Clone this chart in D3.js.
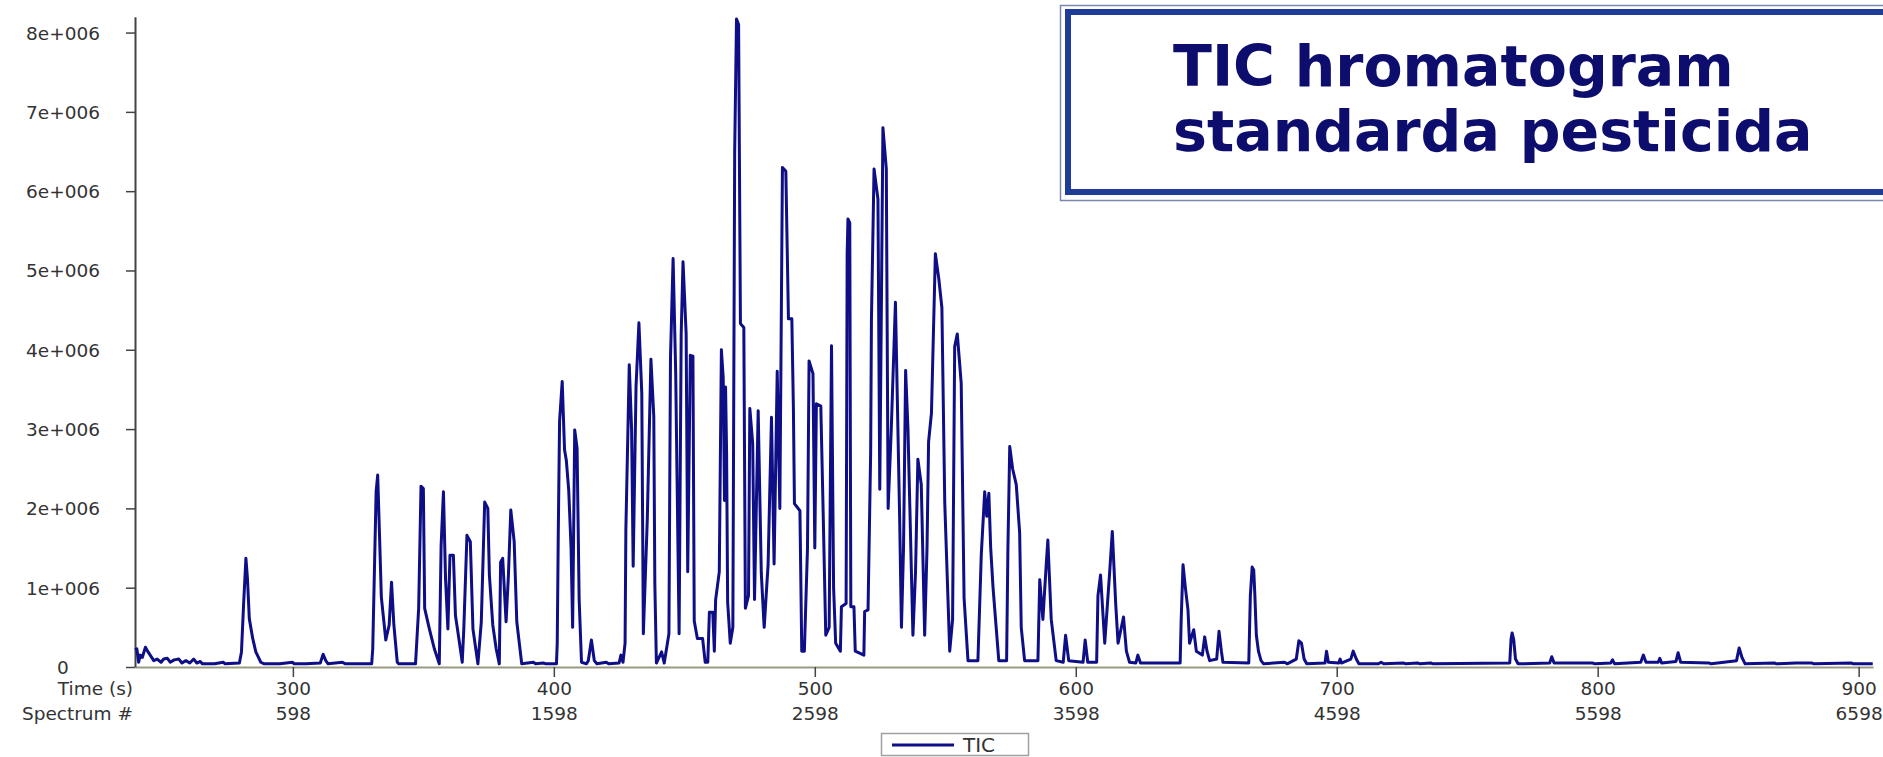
<!DOCTYPE html>
<html><head><meta charset="utf-8">
<script src="https://cdn.jsdelivr.net/npm/d3@7"></script>
<style>html,body{margin:0;padding:0;background:#fff;} svg{display:block;}</style>
</head><body><svg id="c" width="1883" height="757"></svg>
<script>
// ---- data (time in s, TIC intensity in millions) ----
const traceA = [[239.5,0.22],[240.2,0.23],[240.9,0.06],[241.5,0.15],[242.3,0.12],[243.5,0.25],[244.5,0.19],[245.5,0.14],[246.7,0.08],[248.0,0.10],[249.5,0.06],[250.5,0.10],[251.9,0.11],[253.0,0.06],[254.5,0.09],[256.3,0.10],[257.5,0.05],[259.0,0.08],[260.5,0.05],[262.0,0.10],[263.2,0.05],[264.5,0.07],[265.3,0.04],[270.0,0.04],[273.3,0.06],[274.0,0.04],[279.5,0.05],[280.3,0.19],[281.1,0.78],[282.0,1.37],[282.6,1.11],[283.3,0.61],[284.6,0.36],[285.8,0.19],[287.7,0.06],[289.0,0.04],[295.0,0.04],[299.9,0.06],[300.5,0.04],[305.0,0.04],[310.5,0.05],[311.6,0.16],[312.6,0.08],[313.5,0.04],[319.0,0.06],[320.0,0.04],[330.2,0.04],[330.6,0.23],[331.9,2.21],[332.5,2.42],[333.2,1.66],[333.9,0.88],[335.6,0.34],[336.9,0.53],[337.8,1.07],[338.7,0.53],[340.0,0.06],[340.6,0.04],[347.0,0.04],[348.2,0.74],[349.1,2.28],[350.0,2.25],[350.5,0.74],[352.3,0.48],[354.2,0.23],[356.1,0.04],[356.8,1.53],[357.7,2.21],[358.5,1.11],[359.4,0.48],[360.2,1.41],[361.5,1.41],[362.3,0.65],[363.6,0.36],[364.9,0.06],[365.5,0.48],[366.7,1.66],[368.0,1.58],[369.0,0.48],[370.9,0.04],[372.2,0.57],[373.5,2.08],[374.7,2.00],[375.3,1.16],[376.6,0.53],[377.9,0.23],[379.1,0.04],[379.6,1.32],[380.4,1.37],[381.7,0.57],[382.6,1.16],[383.5,1.98],[384.8,1.58],[385.8,0.57],[387.7,0.04],[392.2,0.06],[393.0,0.04],[396.0,0.05],[397.0,0.04],[401.0,0.04]];
const traceB = [[401.3,0.30],[401.7,1.69],[402.2,3.10],[403.2,3.60],[404.1,2.74],[404.8,2.60],[405.7,2.23],[406.6,1.50],[407.2,0.50],[408.0,2.99],[408.9,2.76],[409.7,0.85],[410.6,0.06],[412.5,0.04],[413.2,0.08],[414.4,0.34],[415.5,0.08],[416.5,0.04],[420.1,0.06],[421.0,0.04],[425.0,0.05],[425.7,0.15],[426.5,0.06],[427.3,0.30],[427.6,1.73],[428.9,3.81],[429.8,2.99],[430.4,1.27],[431.5,3.54],[432.6,4.34],[433.7,3.45],[434.3,0.42],[435.8,1.85],[437.2,3.88],[438.3,3.16],[438.7,1.05],[439.3,0.05],[441.3,0.19],[442.3,0.05],[444.1,0.42],[444.7,3.90],[445.7,5.15],[446.7,3.70],[447.2,2.42],[448.0,0.42],[448.8,4.20],[449.5,5.11],[450.7,4.20],[451.3,1.20],[452.3,3.93],[453.3,3.92],[453.8,0.58],[455.0,0.36],[457.0,0.36],[458.0,0.06],[459.0,0.06],[459.6,0.69],[460.9,0.69],[461.5,0.20],[462.0,0.85],[463.4,1.20],[464.2,4.00],[464.9,3.65],[465.4,2.10],[465.8,3.53],[466.2,2.70],[466.6,0.82],[467.6,0.30],[468.6,0.50],[469.3,6.50]];
const traceC = [[470.0,8.17],[470.8,8.10],[471.5,4.33],[472.8,4.28],[473.4,0.74],[474.6,0.90],[475.1,3.26],[476.2,2.82],[476.9,0.85],[478.3,3.23],[479.5,1.18],[480.6,0.50],[482.1,1.29],[483.4,3.15],[484.4,1.30],[485.6,3.73],[486.6,2.00],[487.6,6.30],[488.9,6.25],[489.9,4.39],[491.2,4.39],[491.8,3.26],[492.2,2.06],[494.3,1.97],[495.0,0.20],[496.0,0.20],[497.2,1.50],[497.8,3.86],[499.3,3.70],[500.0,1.50],[500.6,3.32],[502.3,3.29],[503.2,1.95],[504.2,0.40],[505.5,0.50],[506.4,4.05],[507.2,1.00],[508.0,0.30],[509.8,0.20],[510.2,0.76],[512.0,0.80],[512.4,5.20],[512.7,5.65],[513.4,5.60],[513.8,0.76],[515.0,0.76],[515.5,0.20],[518.8,0.15],[519.1,0.70],[520.4,0.72]];
const traceD = [[521.4,2.70],[521.7,4.37],[522.7,6.28],[524.2,5.90],[524.9,2.24],[526.1,6.80],[527.4,6.28],[528.1,2.00],[529.3,3.00],[530.9,4.60],[532.5,1.90],[533.2,0.50],[534.0,1.50],[534.8,3.74],[535.7,3.00],[537.6,0.40],[538.6,1.20],[539.5,2.62],[540.8,2.30],[542.1,0.40],[543.0,1.50],[543.6,2.84],[544.7,3.20],[546.2,5.21],[547.5,4.90],[548.7,4.53],[549.8,2.07],[551.7,0.20],[552.8,0.60],[553.6,4.04],[554.6,4.20],[556.1,3.58],[557.2,0.87],[558.7,0.08],[562.5,0.08],[563.8,1.42],[565.1,2.21],[565.9,1.90],[566.7,2.19],[567.4,1.50],[568.3,1.00],[569.5,0.50],[570.5,0.08]];
const traceE = [[573.5,0.08],[574.0,1.50],[574.7,2.78],[575.8,2.50],[577.2,2.30],[578.5,1.69],[579.1,0.50],[580.4,0.08],[585.5,0.08],[586.2,1.10],[587.4,0.60],[588.7,1.30],[589.3,1.60],[590.6,0.60],[592.5,0.08],[595.2,0.06],[596.1,0.40],[597.3,0.08],[602.8,0.06],[603.6,0.34],[604.6,0.06],[608.0,0.06],[608.5,0.90],[609.5,1.16],[611.1,0.30],[613.0,1.20],[614.0,1.71],[615.3,0.80],[616.2,0.30],[618.3,0.63],[619.4,0.20],[620.6,0.06],[623.0,0.05],[623.8,0.15],[624.8,0.05],[640.0,0.05],[640.4,0.60],[641.1,1.29],[642.0,1.00],[643.0,0.72],[643.6,0.30],[645.2,0.47],[646.2,0.20],[648.5,0.15],[649.4,0.38],[650.3,0.20],[651.3,0.08],[654.0,0.10],[654.9,0.45],[655.8,0.20],[656.4,0.06],[666.3,0.05],[666.9,0.90],[667.6,1.26],[668.2,1.22],[668.6,0.93],[669.2,0.40],[670.0,0.20],[671.0,0.08],[672.0,0.04],[680.0,0.06],[681.0,0.04],[684.5,0.10],[685.5,0.33],[686.5,0.30],[687.5,0.10],[688.5,0.04],[695.5,0.05],[696.1,0.20],[696.8,0.06],[700.8,0.05],[701.3,0.10],[701.8,0.05],[705.4,0.10],[706.3,0.20],[707.5,0.10],[708.5,0.04],[716.0,0.04],[717.0,0.06],[718.0,0.04],[725.7,0.05],[726.5,0.04],[731.0,0.05],[732.0,0.04],[736.0,0.05],[737.0,0.04],[766.3,0.05],[766.8,0.35],[767.2,0.43],[767.8,0.35],[768.5,0.10],[769.5,0.04],[781.6,0.05],[782.4,0.13],[783.3,0.05],[793.0,0.05],[798.0,0.05],[799.0,0.04],[805.0,0.05],[805.7,0.09],[806.5,0.04],[816.5,0.06],[817.5,0.15],[818.5,0.06],[823.2,0.06],[823.8,0.11],[824.5,0.05],[830.0,0.07],[830.8,0.18],[831.8,0.06],[842.8,0.05],[843.5,0.04],[853.2,0.08],[854.2,0.24],[855.3,0.12],[856.5,0.04],[867.9,0.05],[868.5,0.04],[876.0,0.05],[882.0,0.05],[883.0,0.04],[897.3,0.05],[898.0,0.04],[905.4,0.04]];

const yTickValues = [0, 1e6, 2e6, 3e6, 4e6, 5e6, 6e6, 7e6, 8e6];
const yTickLabels = ["0","1e+006","2e+006","3e+006","4e+006","5e+006","6e+006","7e+006","8e+006"];
const timeTicks = [300, 400, 500, 600, 700, 800, 900];
const spectrumLabels = ["598","1598","2598","3598","4598","5598","6598"];
const axisRowLabels = ["Time (s)", "Spectrum #"];
const seriesName = "TIC";
const titleLines = ["TIC hromatogram", "standarda pesticida"];

// ---- drawing ----
const svg = d3.select("#c");
svg.append("rect").attr("width",1883).attr("height",757).attr("fill","#fff");
const FONT = "'DejaVu Sans', Verdana, sans-serif";
const TXT = "#333";

const x = d3.scaleLinear().domain([239.5, 905.5]).range([135, 1873]);
const y = d3.scaleLinear().domain([0, 8.2e6]).range([667, 16.7]);

// x axis
const gx = svg.append("g").attr("transform","translate(0,667)")
  .call(d3.axisBottom(x).tickValues(timeTicks).tickSize(10).tickSizeOuter(0).tickFormat(d=>String(d)));
gx.select(".domain").attr("stroke","#9a9a84").attr("stroke-width",2.2);
gx.selectAll(".tick line").attr("stroke","#444").attr("stroke-width",1.5);
gx.selectAll(".tick text").attr("font-family",FONT).attr("font-size",18.5).attr("fill",TXT)
  .attr("y",28).attr("dy",0);
gx.selectAll(".tick").append("text")
  .text((d,i)=>spectrumLabels[i])
  .attr("font-family",FONT).attr("font-size",18.5).attr("fill",TXT)
  .attr("text-anchor","middle").attr("y",53);

svg.append("text").text(axisRowLabels[0]).attr("x",133).attr("y",667+28)
  .attr("text-anchor","end").attr("font-family",FONT).attr("font-size",18.5).attr("fill",TXT);
svg.append("text").text(axisRowLabels[1]).attr("x",133).attr("y",667+53)
  .attr("text-anchor","end").attr("font-family",FONT).attr("font-size",18.5).attr("fill",TXT);

// y axis
const gy = svg.append("g").attr("transform","translate(135,0)")
  .call(d3.axisLeft(y).tickValues(yTickValues).tickSize(9).tickSizeOuter(0).tickFormat((d,i)=>yTickLabels[i]));
gy.select(".domain").attr("stroke","#444").attr("stroke-width",2);
gy.selectAll(".tick line").attr("stroke","#444").attr("stroke-width",1.5);
gy.selectAll(".tick text").attr("font-family",FONT).attr("font-size",18.5).attr("fill",TXT)
  .attr("text-anchor","middle").attr("x",-72).attr("dy","0.35em");

// trace
const trace = traceA.concat(traceB, traceC, traceD, traceE);
const line = d3.line().x(d=>x(d[0])).y(d=>y(d[1]*1e6));
svg.append("path").datum(trace).attr("d",line)
  .attr("fill","none").attr("stroke","#0e0e86").attr("stroke-width",3)
  .attr("stroke-linejoin","round");

// title box
svg.append("rect").attr("x",1060.5).attr("y",5.5).attr("width",840).attr("height",195)
  .attr("fill","#fff").attr("stroke","#7a88b0").attr("stroke-width",1.5);
svg.append("rect").attr("x",1068).attr("y",12).attr("width",840).attr("height",180)
  .attr("fill","#fff").attr("stroke","#1f3d98").attr("stroke-width",6);
titleLines.forEach((t,i)=>{
  svg.append("text").text(t).attr("x",1173).attr("y",[86,151][i])
    .attr("font-family",FONT).attr("font-weight","bold").attr("font-size",57)
    .attr("fill","#0d0d6e");
});

// legend
svg.append("rect").attr("x",881.5).attr("y",733.5).attr("width",147).attr("height",22)
  .attr("fill","#fff").attr("stroke","#a0a0a0").attr("stroke-width",1.5);
svg.append("line").attr("x1",892).attr("x2",954).attr("y1",745).attr("y2",745)
  .attr("stroke","#0e0e86").attr("stroke-width",3);
svg.append("text").text(seriesName).attr("x",963).attr("y",752)
  .attr("font-family",FONT).attr("font-size",20).attr("fill",TXT);
</script></body></html>
